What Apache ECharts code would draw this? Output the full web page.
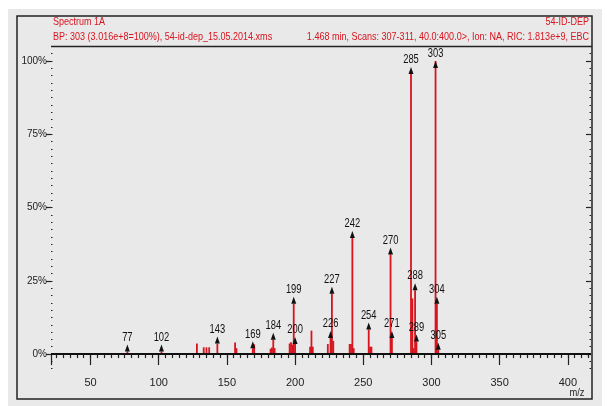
<!DOCTYPE html>
<html>
<head>
<meta charset="utf-8">
<script src="https://cdn.jsdelivr.net/npm/echarts@6.0.0/dist/echarts.min.js"></script>
<style>
  html, body { margin: 0; padding: 0; background: #fff; }
  #app { width: 607px; height: 406px; }
</style>
</head>
<body>
<div id="app"></div>
<script>
// stick spectrum, m/z vs relative intensity (%)
var peakMz  = [77, 102, 128, 133, 135, 137, 143, 156, 157, 169, 170, 182, 183, 184, 185,
               196, 197, 198, 199, 200, 211, 212, 213, 224, 226, 227, 228, 240, 241, 242, 243,
               254, 255, 256, 270, 271, 285, 286, 287, 288, 289, 303, 304, 305];
var peakInt = [0.9, 0.9, 3.6, 2.3, 2.3, 2.3, 3.6, 3.9, 2.0, 2.0, 3.3, 1.8, 2.2, 4.9, 2.0,
               3.6, 4.0, 3.2, 17.2, 3.4, 2.5, 8.0, 2.5, 3.4, 5.5, 20.6, 4.5, 3.4, 3.4, 39.6, 2.0,
               8.4, 2.5, 2.5, 34.0, 5.5, 95.6, 19.0, 2.0, 21.8, 4.3, 100, 17.2, 1.5];
// peaks carrying a mass label
var labelMz = [77, 102, 143, 169, 184, 199, 200, 226, 227, 242, 254, 270, 271, 285, 288, 289, 303, 304, 305];

var xTicks = [50, 100, 150, 200, 250, 300, 350, 400];
var yTicks = [0, 25, 50, 75, 100];

var sans = '"Liberation Sans", Arial, sans-serif';
var red = '#d8141e';

var xMinor = [];
for (var v = 25; v <= 415; v += 5) xMinor.push(v);
var yMinor = [];
for (var w = -5; w <= 105; w += 2.5) yMinor.push(w);

var bars = peakMz.map(function (m, i) { return [m, peakInt[i]]; });
var marks = labelMz.map(function (m) { return [m, peakInt[peakMz.indexOf(m)]]; });

var chart = echarts.init(document.getElementById('app'));

function yAxisDef(pos, ticks, len, inside, labels) {
    return {
        type: 'value', position: pos, min: -5, max: 105,
        axisLine: { show: false },
        splitLine: { show: false },
        axisTick: { show: true, customValues: ticks, length: len, inside: inside,
                    lineStyle: { color: '#222', width: 1.2 } },
        axisLabel: labels ? {
            customValues: yTicks, formatter: '{value}%', margin: 4,
            fontFamily: sans, fontSize: 10, color: '#222'
        } : { show: false }
    };
}

function headerText(x, y, text, align) {
    return {
        type: 'text', z: 10, x: x, y: y, scaleX: 0.82, silent: true,
        style: { text: text, fill: red, font: '11px ' + sans,
                 textAlign: align, textVerticalAlign: 'middle' }
    };
}

// arrow + mass label above a peak, drawn narrow like the original print
function renderLabel(params, api) {
    var m = api.value(0);
    var p = api.coord([m, api.value(1)]);
    var d = m === 303 ? 7 : 0;   // base peak: arrow hangs below the top
    return {
        type: 'group',
        children: [
            { type: 'polygon',
              shape: { points: [[p[0], p[1] - 7 + d], [p[0] - 2.5, p[1] + d], [p[0] + 2.5, p[1] + d]] },
              style: { fill: '#111' } },
            { type: 'text', x: p[0], y: p[1] - 8 + d, scaleX: 0.78,
              style: { text: String(m), textAlign: 'center', textVerticalAlign: 'bottom',
                       font: '12px ' + sans, fill: '#111' } }
        ]
    };
}

chart.setOption({
    animation: false,
    backgroundColor: '#fff',
    grid: { left: 51, top: 46.4, width: 540, height: 322.3 },
    graphic: [
        { type: 'rect', z: -10, silent: true,
          shape: { x: 8, y: 9, width: 594, height: 397 },
          style: { fill: '#e9e9e9' } },
        { type: 'rect', z: 10, silent: true,
          shape: { x: 17, y: 16, width: 575, height: 383 },
          style: { fill: null, stroke: '#222', lineWidth: 1.5 } },
        { type: 'line', z: 10, silent: true,
          shape: { x1: 51, y1: 46.5, x2: 592, y2: 46.5 },
          style: { stroke: '#222', lineWidth: 1.5 } },
        headerText(53, 22, 'Spectrum 1A', 'left'),
        headerText(53, 37, 'BP: 303 (3.016e+8=100%), 54-id-dep_15.05.2014.xms', 'left'),
        headerText(589, 22, '54-ID-DEP', 'right'),
        headerText(589, 37, '1.468 min, Scans: 307-311, 40.0:400.0>, Ion: NA, RIC: 1.813e+9, EBC', 'right'),
        { type: 'text', z: 10, x: 577, y: 393, scaleX: 0.85, silent: true,
          style: { text: 'm/z', fill: '#222', font: '11px ' + sans,
                   textAlign: 'center', textVerticalAlign: 'middle' } }
    ],
    xAxis: [
        { type: 'value', min: 21, max: 417, position: 'bottom',
          axisLine: { show: false }, splitLine: { show: false },
          axisTick: { show: true, customValues: [21].concat(xTicks), length: 11,
                      lineStyle: { color: '#222', width: 1.2 } },
          axisLabel: { customValues: xTicks, margin: 9, fontFamily: sans, fontSize: 11, color: '#222' } },
        { type: 'value', min: 21, max: 417, position: 'bottom',
          axisLine: { show: false }, splitLine: { show: false },
          axisTick: { show: true, customValues: xMinor, length: 4,
                      lineStyle: { color: '#222', width: 1.2 } },
          axisLabel: { show: false } }
    ],
    yAxis: [
        yAxisDef('left', yTicks, 5, false, true),
        yAxisDef('left', yMinor, 1.5, true, false),
        yAxisDef('right', yTicks, 5, true, false),
        yAxisDef('right', yMinor, 1.5, true, false)
    ],
    series: [
        {
            type: 'bar', xAxisIndex: 0, yAxisIndex: 0,
            barWidth: 1.8, data: bars,
            itemStyle: { color: red },
            markLine: {
                silent: true, symbol: 'none', label: { show: false },
                lineStyle: { color: '#111', width: 2, type: 'solid' },
                data: [{ yAxis: 0 }]
            }
        },
        {
            type: 'custom', xAxisIndex: 0, yAxisIndex: 0, z: 5,
            renderItem: renderLabel,
            data: marks
        }
    ]
});
</script>
</body>
</html>
